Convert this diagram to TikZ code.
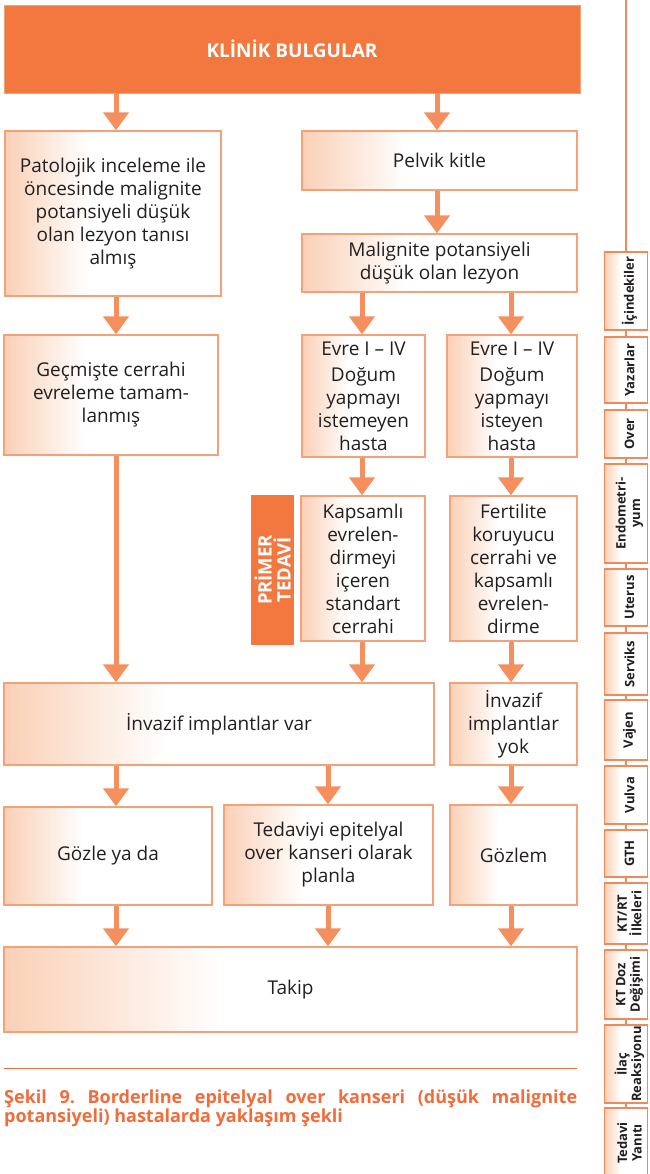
\documentclass[tikz,border=0pt]{standalone}
\usepackage{fontspec}
\setmainfont{Open Sans}
\usetikzlibrary{arrows.meta}

\definecolor{ink}{HTML}{231F20}
\definecolor{banner}{HTML}{F3783F}
\definecolor{boxline}{HTML}{F4A078}
\definecolor{arrowc}{HTML}{F58F5D}
\definecolor{peach}{HTML}{FAD0B6}
\definecolor{caption}{HTML}{F26B3A}
\definecolor{tabline}{HTML}{F3895B}

% peach on the left edge fading to white
\pgfdeclarehorizontalshading{boxshade}{100bp}{color(0bp)=(peach); color(25bp)=(peach); color(44bp)=(white); color(100bp)=(white)}

\tikzset{
  box/.style={draw=boxline, line width=1.3pt, shading=boxshade, text=ink,
    align=center, inner sep=0pt, font=\fontsize{19}{23}\selectfont},
  head/.style={fill=banner, draw=boxline, line width=0.8pt, text=white,
    align=center, inner sep=0pt, font=\fontsize{19}{20}\selectfont\bfseries},
  flow/.style={draw=arrowc, line width=5pt, -{Triangle[width=25pt,length=18pt]}},
  tab/.style={draw=tabline, line width=1.1pt, shading=boxshade,
    rotate=90, inner sep=0pt, minimum height=43},
  tabtext/.style={text=ink, rotate=90, align=center, inner sep=0pt,
    font=\fontsize{13}{14.5}\selectfont\bfseries},
}

% one navigation tab: name, centre y, length, label
\newcommand\navtab[4]{%
  \node[tab, minimum width=#3] (#1) at (626,#2) {};
  \node[tabtext] (#1txt) at ([xshift=3.5pt]#1.center) {#4};}

\begin{document}
\begin{tikzpicture}[x=1pt,y=-1pt]
\useasboundingbox (0,0) rectangle (649,1174);
\clip (0,0) rectangle (649,1174);

% column guides for the arrows
\coordinate (c1) at (116,0);
\coordinate (c2) at (362,0);
\coordinate (c3) at (511,0);
\coordinate (c4) at (437,0);
\coordinate (c5) at (328,0);

% header
\node[head, minimum width=576, minimum height=88] (klin) at (292,49) {KLİNİK BULGULAR};

% left column
\node[box, minimum width=216, minimum height=165] (pat) at (113,213.5)
  {Patolojik inceleme ile\\öncesinde malignite\\potansiyeli düşük\\olan lezyon tanısı\\almış};
\node[box, minimum width=214, minimum height=120] (gec) at (111,395)
  {Geçmişte cerrahi\\evreleme tamam-\\lanmış};

% right column
\node[box, minimum width=275, minimum height=59] (pel) at (439.5,160.5) {Pelvik kitle};
\node[box, minimum width=275, minimum height=58] (mal) at (439.5,263)
  {Malignite potansiyeli\\düşük olan lezyon};
\node[box, minimum width=123, minimum height=122] (evl) at (363.5,396)
  {Evre I – IV\\[3pt]Doğum\\yapmayı\\istemeyen\\hasta};
\node[box, minimum width=130, minimum height=122] (evr) at (512,396)
  {Evre I – IV\\[3pt]Doğum\\yapmayı\\isteyen\\hasta};
\node[box, minimum width=124, minimum height=145] (kap) at (363,568.5)
  {Kapsamlı\\evrelen-\\dirmeyi\\içeren\\standart\\cerrahi};
\node[box, minimum width=127, minimum height=145] (fer) at (513.5,568.5)
  {Fertilite\\koruyucu\\cerrahi ve\\kapsamlı\\evrelen-\\dirme};
\node[head, draw=none, rotate=90, minimum width=150, minimum height=43,
  font=\fontsize{18.5}{19}\selectfont\bfseries] (prim) at (272.5,570)
  {PRİMER\\TEDAVİ};

% lower rows
\node[box, minimum width=430, minimum height=82] (inv) at (219,724) {İnvazif implantlar var};
\node[box, minimum width=127, minimum height=82] (yok) at (513.5,724) {İnvazif\\implantlar\\yok};
\node[box, minimum width=208, minimum height=98] (goz) at (108,856) {Gözle ya da};
\node[box, minimum width=209, minimum height=100] (ted) at (328.5,855)
  {Tedaviyi epitelyal\\over kanseri olarak\\planla};
\node[box, minimum width=127, minimum height=100] (gzm) at (513.5,855) {Gözlem};
\node[box, minimum width=573, minimum height=85] (tak) at (290.5,989.5) {Takip};

% arrows
\draw[flow] (klin.south -| c1) -- (pat.north -| c1);
\draw[flow] (klin.south -| c4) -- (pel.north -| c4);
\draw[flow] (pel.south -| c4) -- (mal.north -| c4);
\draw[flow] (pat.south -| c1) -- (gec.north -| c1);
\draw[flow] (mal.south -| c2) -- (evl.north -| c2);
\draw[flow] (mal.south -| c3) -- (evr.north -| c3);
\draw[flow] (evl.south -| c2) -- (kap.north -| c2);
\draw[flow] (evr.south -| c3) -- (fer.north -| c3);
\draw[flow] (gec.south -| c1) -- (inv.north -| c1);
\draw[flow] (kap.south -| c2) -- (inv.north -| c2);
\draw[flow] (fer.south -| c3) -- (yok.north -| c3);
\draw[flow] (inv.south -| c1) -- (goz.north -| c1);
\draw[flow] (inv.south -| c5) -- (ted.north -| c5);
\draw[flow] (yok.south -| c3) -- (gzm.north -| c3);
\draw[flow] (goz.south -| c1) -- (tak.north -| c1);
\draw[flow] (ted.south -| c5) -- (tak.north -| c5);
\draw[flow] (gzm.south -| c3) -- (tak.north -| c3);

% caption
\coordinate (rl) at (4,1068);
\coordinate (rr) at (577,1068);
\draw[caption, line width=1pt] (rl) -- (rr);
\node[anchor=north west, text width=573, align=justify, inner sep=0pt, text=caption,
  font=\fontsize{18}{19}\selectfont\bfseries\frenchspacing] (cap) at (4,1090)
  {Şekil 9. Borderline epitelyal over kanseri (düşük malignite\linebreak potansiyeli) hastalarda yaklaşım şekli};

% side navigation
\coordinate (navtop) at (626,0);
\coordinate (navbot) at (626,1174);
\draw[tabline, line width=1.1pt] (navtop) -- (navbot);
\navtab{t1}{291}{78}{İçindekiler}
\navtab{t2}{370}{66}{Yazarlar}
\navtab{t3}{434}{48}{Over}
\navtab{t4}{513.5}{99}{Endometri-\\yum}
\navtab{t5}{597.5}{57}{Uterus}
\navtab{t6}{664}{62}{Serviks}
\navtab{t7}{730}{60}{Vajen}
\navtab{t8}{795}{58}{Vulva}
\navtab{t9}{853.5}{47}{GTH}
\navtab{t10}{913.5}{61}{KT/RT\\İlkeleri}
\navtab{t11}{984.5}{69}{KT Doz\\Değişimi}
\navtab{t12}{1064}{78}{İlaç\\Reaksiyonu}
\navtab{t13}{1143}{70}{Tedavi\\Yanıtı}
\end{tikzpicture}
\end{document}
